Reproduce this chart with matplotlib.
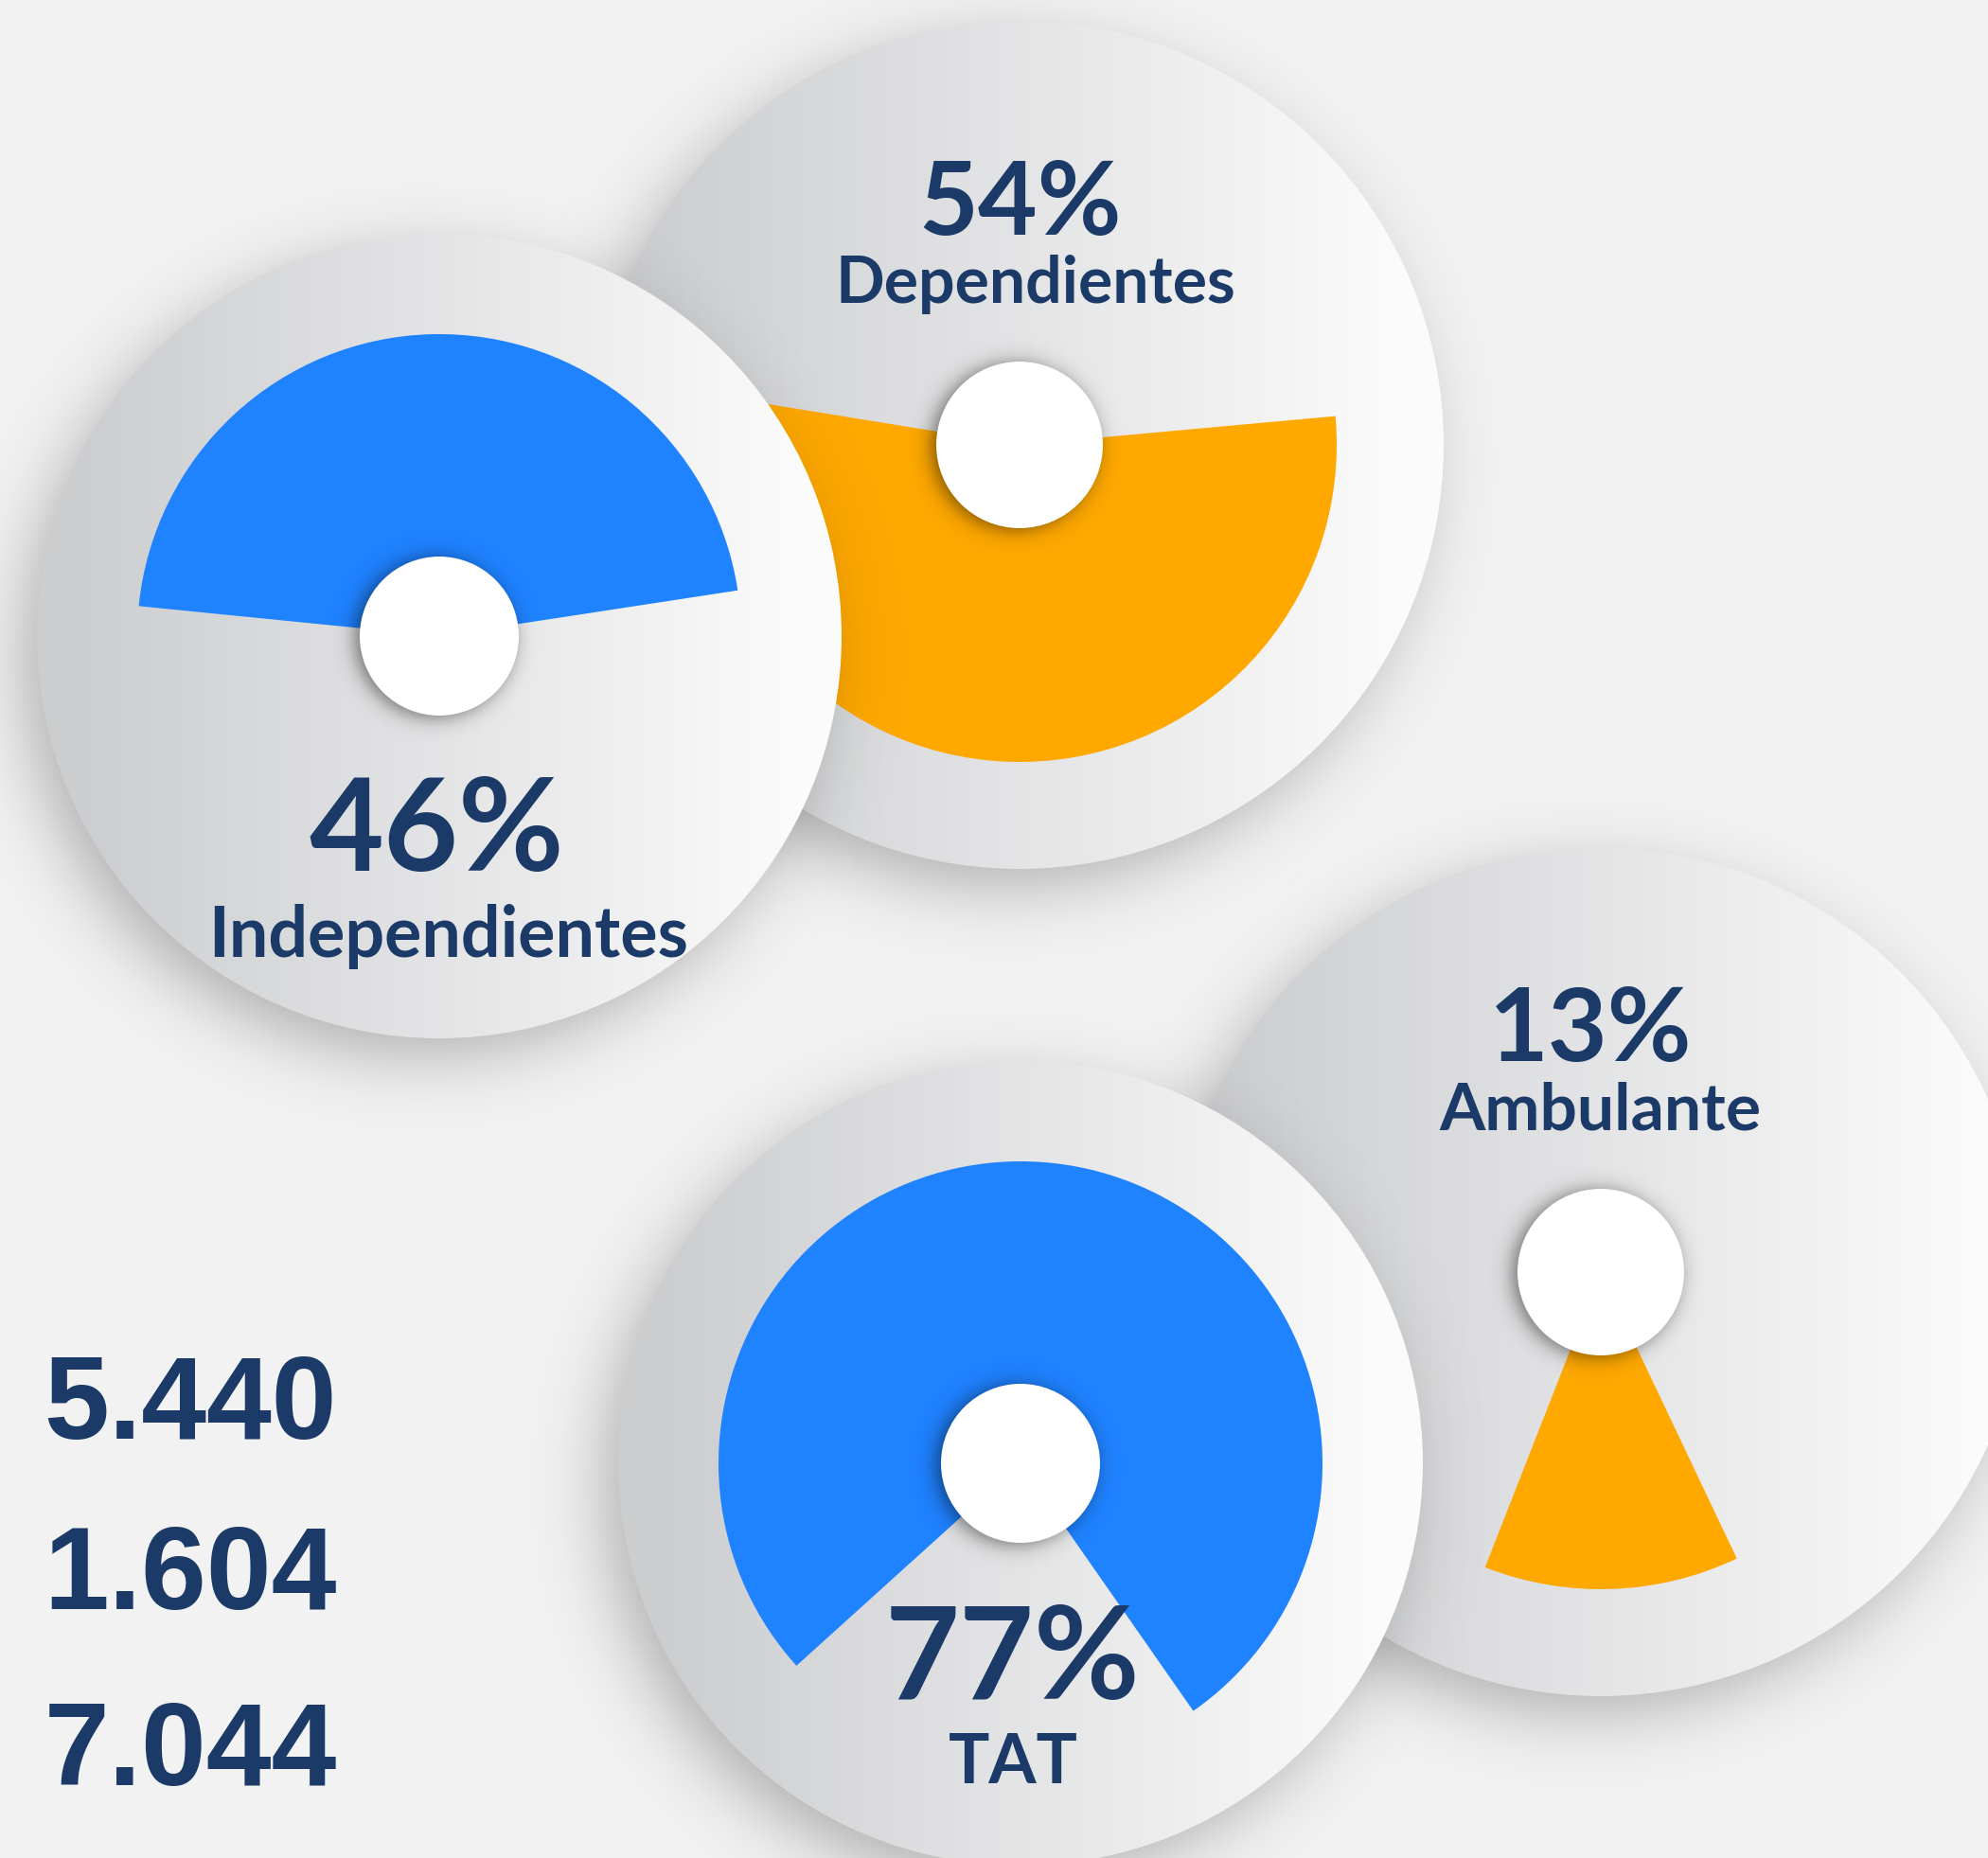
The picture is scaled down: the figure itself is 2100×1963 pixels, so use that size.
import numpy as np
import matplotlib
matplotlib.use('Agg')
import matplotlib.pyplot as plt
from matplotlib.patches import Circle, Wedge

# data
labels = ['Dependientes', 'Independientes', 'Ambulante', 'TAT']
pct = [54, 46, 13, 77]
wedge_colors = ['#fea800', '#1f82ff', '#fea800', '#1f82ff']
totals = [5440, 1604, 7044]

# layout (pixels, y up)
W, H = 2100, 1963
centers = [(1077, 1493), (464, 1291), (1691, 619), (1078, 417)]
big_r = [448, 425, 448, 425]
wedge_r = [335, 319, 335, 319]
hole_r = [88, 84, 88, 84]
mid_angle = [268, 91.5, -88, 83.5]
pct_pos = [(1078, 1715), (461, 1043), (1680, 842), (1069, 168)]
lab_pos = [(1094, 1643), (474, 952), (1690, 770), (1070, 79)]
pct_size = [78, 98, 78, 98]
lab_size = [49, 53, 50, 52]

navy = '#1b3a68'


def soft_shadow(ax, cx, cy, r, spread, strength, z, n=400):
    pad = 5 * spread
    x0, x1 = cx - r - pad, cx + r + pad
    y0, y1 = cy - r - pad, cy + r + pad
    X, Y = np.meshgrid(np.linspace(x0, x1, n), np.linspace(y0, y1, n))
    d = np.hypot(X - cx, Y - cy)
    a = strength / (1 + np.exp((d - r) / spread))
    img = np.zeros((n, n, 4))
    img[..., 3] = a
    ax.imshow(img, extent=(x0, x1, y0, y1), origin='lower', zorder=z,
              interpolation='bilinear', aspect='auto')


def grad_circle(ax, cx, cy, r, z):
    c0 = np.array([0.80, 0.805, 0.815])
    c1 = np.array([0.985, 0.985, 0.985])
    t = np.linspace(0, 1, 256)
    t = np.clip((t - 0.05) / 0.9, 0, 1)
    row = c0[None, :] * (1 - t[:, None]) + c1[None, :] * t[:, None]
    img = np.repeat(row[None, :, :], 2, axis=0)
    im = ax.imshow(img, extent=(cx - r, cx + r, cy - r, cy + r), origin='lower',
                   zorder=z, interpolation='bilinear', aspect='auto')
    clip = Circle((cx, cy), r, transform=ax.transData)
    im.set_clip_path(clip)


fig = plt.figure(figsize=(21, 19.63), dpi=100)
fig.patch.set_facecolor('#f2f2f2')
ax = fig.add_axes([0, 0, 1, 1])
ax.set_facecolor('#f2f2f2')

for i in range(4):
    z = 10 * (i + 1)
    cx, cy = centers[i]
    soft_shadow(ax, cx - 18, cy - 22, big_r[i] - 5, 22, 0.28, z)
    grad_circle(ax, cx, cy, big_r[i], z + 1)
    span = pct[i] / 100 * 360
    ax.add_patch(Wedge((cx, cy), wedge_r[i], mid_angle[i] - span / 2,
                       mid_angle[i] + span / 2, facecolor=wedge_colors[i],
                       edgecolor='none', zorder=z + 2))
    soft_shadow(ax, cx - 5, cy - 2, hole_r[i], 6, 0.5, z + 3, n=200)
    ax.add_patch(Circle((cx, cy), hole_r[i], facecolor='white',
                        edgecolor='none', zorder=z + 4))
    ax.text(pct_pos[i][0], pct_pos[i][1], f'{pct[i]}%', ha='center',
            va='baseline', fontsize=pct_size[i], fontweight='bold',
            family='Lato', color=navy, zorder=z + 5)
    ax.text(lab_pos[i][0], lab_pos[i][1], labels[i], ha='center',
            va='baseline', fontsize=lab_size[i], fontweight='bold',
            family='Lato', color=navy, zorder=z + 5)

num_y = [443, 263, 77]
for v, y in zip(totals, num_y):
    ax.text(356, y, f'{v:,}'.replace(',', '.'), ha='right', va='baseline',
            fontsize=89, fontweight='bold', family='Liberation Sans',
            color=navy, zorder=60)

ax.set_xlim(0, W)
ax.set_ylim(0, H)
ax.axis('off')

plt.savefig('out.png', dpi=100, facecolor=fig.get_facecolor())
